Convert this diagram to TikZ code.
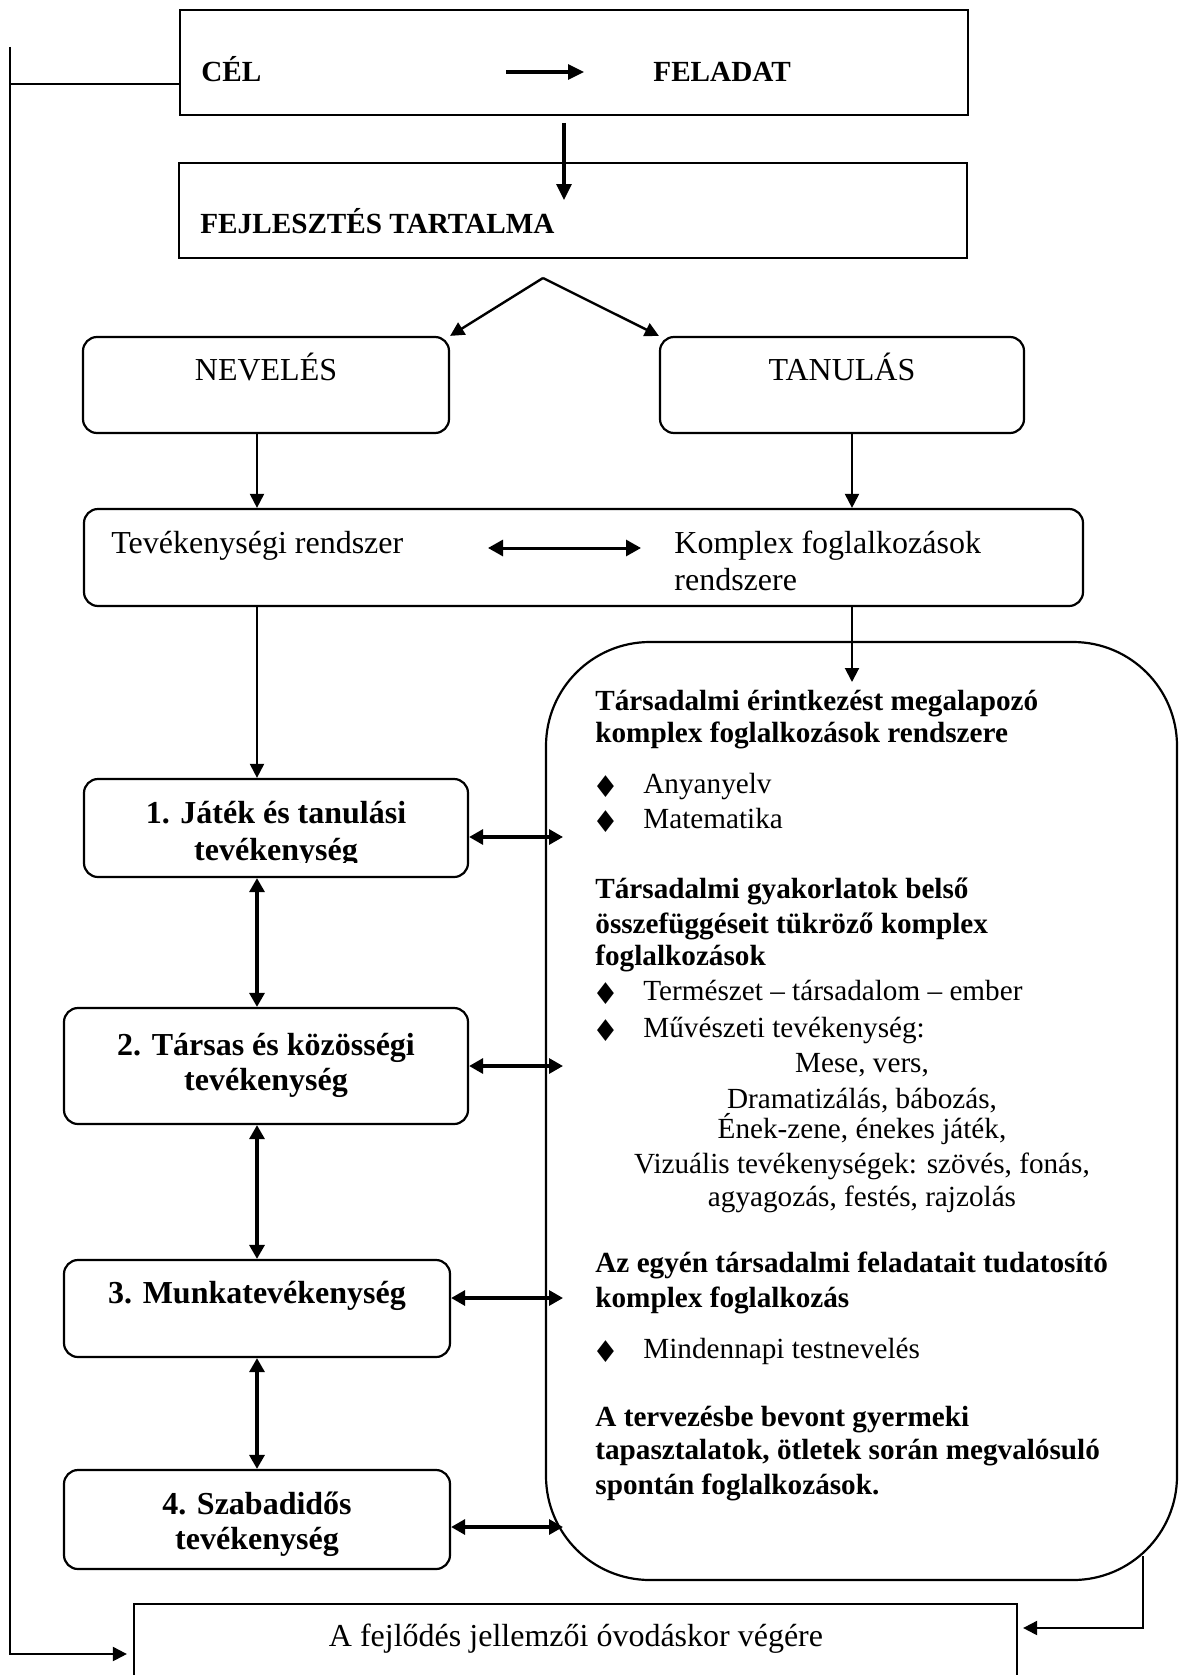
\documentclass[tikz,border=0pt]{standalone}
\usepackage{fontspec}
\setmainfont{Liberation Serif}
\newfontfamily\dejavu{DejaVu Sans}
\usetikzlibrary{arrows.meta}
\tikzset{
  sqbox/.style={draw, line width=1.1pt, inner sep=0pt},
  rbox/.style={draw, line width=1.1pt, rounded corners=7pt, inner sep=0pt},
  txt/.style={inner sep=0pt, anchor=base west},
  ctxt/.style={inner sep=0pt, anchor=base},
  big/.style={font=\fontsize{16}{19}\selectfont},
  bigb/.style={font=\fontsize{16}{19}\selectfont\bfseries},
  med/.style={font=\fontsize{14.6}{17}\selectfont},
  medb/.style={font=\fontsize{14.6}{17}\selectfont\bfseries},
  bul/.style={inner sep=0pt, anchor=center, font=\dejavu\fontsize{15}{16}\selectfont},
  arr/.style={-{Triangle[length=7pt,width=7pt]}, line width=1pt},
  arrT/.style={-{Triangle[length=8pt,width=7.5pt]}, line width=1.6pt},
  darr/.style={{Triangle[length=7pt,width=7.5pt]}-{Triangle[length=7pt,width=7.5pt]}, line width=1.6pt},
}
\begin{document}
\begin{tikzpicture}[x=0.5pt,y=-0.5pt]
\useasboundingbox (0,0) rectangle (1179,1675);

% boxes
\node[sqbox, minimum width=394pt, minimum height=52.5pt] (top) at (574,62.5) {};
\node[sqbox, minimum width=394pt, minimum height=47.5pt] (fej) at (573,210.5) {};
\node[rbox, minimum width=183pt, minimum height=48pt] (nev) at (266,385) {};
\node[rbox, minimum width=182pt, minimum height=48pt] (tan) at (842,385) {};
\node[rbox, minimum width=499.5pt, minimum height=48.5pt] (tev) at (583.5,557.5) {};
\node[rbox, minimum width=192pt, minimum height=49pt] (b1) at (276,828) {};
\node[rbox, minimum width=202pt, minimum height=58pt] (b2) at (266,1066) {};
\node[rbox, minimum width=193pt, minimum height=48.5pt] (b3) at (257,1308.5) {};
\node[rbox, minimum width=193pt, minimum height=49.5pt] (b4) at (257,1519.5) {};
\node[draw, line width=1.1pt, rounded corners=52pt, inner sep=0pt, minimum width=315.5pt, minimum height=469pt] (bigbox) at (861.5,1111) {};
\node[sqbox, minimum width=441.5pt, minimum height=38pt] (bot) at (575.5,1642) {};

% texts in the upper part
\node[txt, medb] (cel) at (201,82) {CÉL};
\node[txt, medb] (fel) at (653,82) {FELADAT};
\node[txt, medb] (fejT) at (200,233) {FEJLESZTÉS TARTALMA};
\node[ctxt, big] (nevT) at (266,380) {NEVELÉS};
\node[ctxt, big] (tanT) at (842,380) {TANULÁS};
\node[txt, big] (tevT1) at (111,553) {Tevékenységi rendszer};
\node[txt, big] (tevT2) at (674,553) {Komplex foglalkozások};
\node[txt, big] (tevT3) at (674,590) {rendszere};

% left boxes texts
\node[ctxt, bigb] (b1T1) at (276,823) {1. Játék és tanulási};
\begin{scope}
  \clip (100,830) rectangle (450,862);
  \node[ctxt, bigb] (b1T2) at (276,860) {tevékenység};
\end{scope}
\node[ctxt, bigb] (b2T1) at (266,1055) {2. Társas és közösségi};
\node[ctxt, bigb] (b2T2) at (266,1090) {tevékenység};
\node[ctxt, bigb] (b3T) at (257,1303.5) {3. Munkatevékenység};
\node[ctxt, bigb] (b4T1) at (257,1514) {4. Szabadidős};
\begin{scope}
  \clip (100,1520) rectangle (440,1557);
  \node[ctxt, bigb] (b4T2) at (257,1549) {tevékenység};
\end{scope}

% right box texts
\node[txt, medb] (r1) at (595,710) {Társadalmi érintkezést megalapozó};
\node[txt, medb] (r2) at (595,742) {komplex foglalkozások rendszere};
\node[bul] (d1) at (606,787) {♦};
\node[txt, med] (r3) at (643,793) {Anyanyelv};
\node[bul] (d2) at (606,822) {♦};
\node[txt, med] (r4) at (643,828) {Matematika};
\node[txt, medb] (r5) at (595,898) {Társadalmi gyakorlatok belső};
\node[txt, medb] (r6) at (595,933) {összefüggéseit tükröző komplex};
\node[txt, medb] (r7) at (595,965) {foglalkozások};
\node[bul] (d3) at (606,994) {♦};
\node[txt, med] (r8) at (643,1000) {Természet – társadalom – ember};
\node[bul] (d4) at (606,1031) {♦};
\node[txt, med] (r9) at (643,1037) {Művészeti tevékenység:};
\node[ctxt, med] (r10) at (862,1072) {Mese, vers,};
\node[ctxt, med] (r11) at (862,1108) {Dramatizálás, bábozás,};
\node[ctxt, med] (r12) at (862,1138) {Ének-zene, énekes játék,};
\node[ctxt, med] (r13) at (862,1173) {Vizuális tevékenységek: szövés, fonás,};
\node[ctxt, med] (r14) at (862,1206) {agyagozás, festés, rajzolás};
\node[txt, medb] (r15) at (595,1272) {Az egyén társadalmi feladatait tudatosító};
\node[txt, medb] (r16) at (595,1307) {komplex foglalkozás};
\node[bul] (d5) at (606,1352) {♦};
\node[txt, med] (r17) at (643,1358) {Mindennapi testnevelés};
\node[txt, medb] (r18) at (595,1426) {A tervezésbe bevont gyermeki};
\node[txt, medb] (r19) at (595,1459) {tapasztalatok, ötletek során megvalósuló};
\node[txt, medb] (r20) at (595,1494) {spontán foglalkozások.};

% bottom text
\node[ctxt, big] (botT) at (576,1646) {A fejlődés jellemzői óvodáskor végére};

% helper coordinates
\coordinate (colL) at (257,0);
\coordinate (colR) at (852,0);
\coordinate (hx) at (563,0);
\coordinate (fbTop) at (10,47);
\coordinate (fbJ) at (10,84);
\coordinate (fbBot) at (10,1654);
\coordinate (a1s) at (506,72);
\coordinate (a1e) at (584,72);
\coordinate (a2s) at (564,123);
\coordinate (a2e) at (564,200);
\coordinate (apex) at (543,278);
\coordinate (tvs) at (488,548);
\coordinate (tve) at (641,548);
\coordinate (bigIn) at (852,682);
\coordinate (rbS) at (1143,1556);
\coordinate (rbY) at (0,1628);

% connectors
\draw[line width=1pt] (fbJ) -- (fbJ -| top.west);
\draw[arr, shorten >=3pt] (fbTop) -- (fbBot) -- (fbBot -| bot.west);
\draw[arrT] (a1s) -- (a1e);
\draw[arrT] (a2s) -- (a2e);
\draw[arr, line width=1.2pt] (apex) -- (nev.north east);
\draw[arr, line width=1.2pt] (apex) -- (tan.north west);
\draw[arr] (nev.south -| colL) -- (tev.north -| colL);
\draw[arr] (tan.south -| colR) -- (tev.north -| colR);
\draw[{Triangle[length=7.5pt,width=8pt]}-{Triangle[length=7.5pt,width=8pt]}, line width=1.5pt] (tvs) -- (tve);
\draw[arr] (tev.south -| colL) -- (b1.north -| colL);
\draw[arr] (tev.south -| colR) -- (bigIn);
\draw[darr] (b1.south -| colL) -- (b2.north -| colL);
\draw[darr] (b2.south -| colL) -- (b3.north -| colL);
\draw[darr] (b3.south -| colL) -- (b4.north -| colL);
\draw[darr] ([yshift=-4.5pt]b1.east) -- ([yshift=-4.5pt]b1.east -| hx);
\draw[darr] (b2.east) -- (b2.east -| hx);
\draw[darr] ([yshift=5.25pt]b3.east) -- ([yshift=5.25pt]b3.east -| hx);
\draw[darr] ([yshift=-3.75pt]b4.east) -- ([yshift=-3.75pt]b4.east -| hx);
\draw[arr, shorten >=2.5pt] (rbS) |- (bot.east |- rbY);
\end{tikzpicture}
\end{document}
